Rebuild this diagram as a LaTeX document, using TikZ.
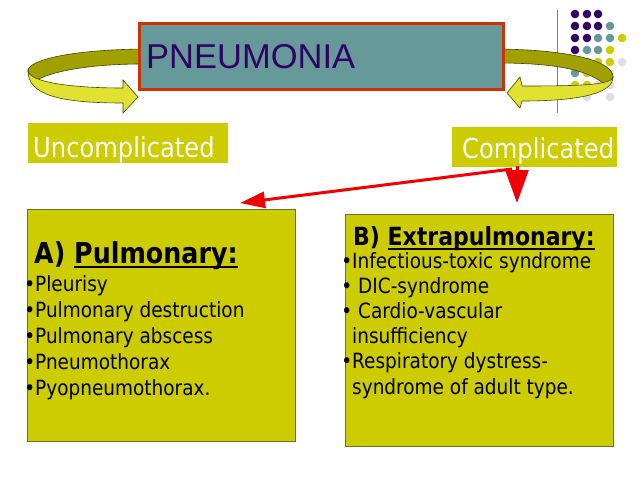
\documentclass[tikz,border=0pt]{standalone}
\usepackage{fontspec}
\setmainfont{DejaVu Sans}[FakeStretch=0.88]
\newfontfamily\arialf{Liberation Sans}
\usetikzlibrary{arrows.meta}
\definecolor{olivey}{RGB}{204,204,0}
\definecolor{tealbox}{RGB}{102,153,153}
\definecolor{redb}{RGB}{204,51,0}
\definecolor{purp}{RGB}{51,0,102}
\definecolor{riblight}{RGB}{225,225,50}
\definecolor{ribdark}{RGB}{160,160,0}
\definecolor{ribedge}{RGB}{70,70,0}
\definecolor{dotP}{RGB}{51,0,102}
\definecolor{dotT}{RGB}{102,153,153}
\definecolor{dotY}{RGB}{204,204,0}
\definecolor{dotL}{RGB}{221,221,238}
\definecolor{boxedge}{RGB}{110,110,50}
\definecolor{arrred}{RGB}{240,0,0}
\newcommand\myul[1]{\setbox0\hbox{#1}\rlap{\rule[-4.5pt]{\wd0}{2pt}}\box0}
\newcommand\bul{\llap{•}}
\tikzset{
  mainbox/.style={draw=redb, line width=3pt, fill=tealbox, minimum width=364pt, minimum height=66pt, anchor=north west, inner sep=0pt},
  lblbox/.style={fill=olivey, anchor=north west, inner sep=0pt},
  lbltext/.style={anchor=base west, text=white, inner sep=0pt, font=\fontsize{27.5}{30}\selectfont},
  listbox/.style={fill=olivey, draw=boxedge, line width=0.8pt, minimum width=268pt, minimum height=232pt, anchor=north west, inner sep=0pt},
  itemtext/.style={anchor=base west, inner sep=0pt, font=\fontsize{21}{24}\selectfont},
  ribbonD/.style={fill=ribdark, draw=ribedge, line width=0.6pt},
  ribbonL/.style={fill=riblight, draw=ribedge, line width=0.6pt},
  dotp/.style={fill=dotP}, dott/.style={fill=dotT}, doty/.style={fill=dotY}, dotl/.style={fill=dotL},
  redline/.style={draw=arrred, line width=3pt, -{Triangle[length=25pt,width=16pt]}},
}
\begin{document}
\begin{tikzpicture}[x=1pt,y=-1pt]
\useasboundingbox (0,0) rectangle (640,480);
\fill[white] (0,0) rectangle (640,480);
% decoration line and dots
\draw[gray, line width=1pt] (557,10) -- (557,113);
\foreach \c/\r/\s in {575/14/dotp,587/14/dotp,598/14/dotp,
  575/26/dotp,587/26/dotp,598/26/dotp,610/26/dott,
  575/38/dotp,587/38/dotp,598/38/dott,610/38/dott,622/38/doty,
  575/50/dotp,587/50/dott,598/50/dott,610/50/doty,
  575/62/dott,587/62/dott,598/62/doty,610/62/doty,622/62/dotl,
  575/73/dott,587/73/doty,598/73/doty,610/73/dotl,
  575/85/doty,587/85/doty,598/85/dotl,610/85/dotl,
  587/97/dotl,610/97/dotl}
  \fill[\s] (\c,\r) circle (4.3pt);
% left ribbon arrow
\filldraw[ribbonD] (142,49) .. controls (70,50) and (28,60) .. (28,71) .. controls (28,75) and (31,78) .. (37,80) .. controls (55,70) and (95,64) .. (142,64) -- cycle;
\filldraw[ribbonL] (28,71) .. controls (30,82) and (70,88) .. (123,88) -- (123,80) -- (138,97) -- (123,113) -- (123,103) .. controls (60,103) and (28,95) .. (28,71) -- cycle;
% right ribbon arrow
\filldraw[ribbonD] (498,49) .. controls (575,50) and (613,62) .. (613,77) .. controls (613,80) and (609,82) .. (604,84) .. controls (588,70) and (555,63) .. (498,63) -- cycle;
\filldraw[ribbonL] (613,77) .. controls (612,85) and (580,86) .. (522,86) -- (520,77) -- (507,93) -- (520,108) -- (522,101) .. controls (585,101) and (613,92) .. (613,77) -- cycle;
% title box
\node[mainbox] (pbox) at (138,22) {};
\node[anchor=base west, inner sep=0pt, text=purp, font=\arialf\fontsize{34.5}{40}\selectfont] (ptext) at (146,68) {PNEUMONIA};
% labels
\node[lblbox, minimum width=200pt, minimum height=40pt] (ubox) at (28,123) {};
\node[lbltext] (utext) at (33,157) {Uncomplicated};
\node[lblbox, minimum width=165pt, minimum height=40pt] (cbox) at (452,127) {};
\node[lbltext] (ctext) at (462,158) {Complicated};
% list boxes
\node[listbox] (boxA) at (27,209) {};
\node[listbox] (boxB) at (345,214) {};
\node[itemtext, font=\bfseries\fontsize{28.8}{30}\selectfont] (a0) at (34,263) {A) \myul{Pulmonary:}};
\node[itemtext] (a1) at (35,291) {\bul Pleurisy};
\node[itemtext] (a2) at (35,317) {\bul Pulmonary destruction};
\node[itemtext] (a3) at (35,343) {\bul Pulmonary abscess};
\node[itemtext] (a4) at (35,369) {\bul Pneumothorax};
\node[itemtext] (a5) at (35,395) {\bul Pyopneumothorax.};
\node[itemtext, font=\bfseries\fontsize{25}{28}\selectfont] (b0) at (353,245) {B) \myul{Extrapulmonary:}};
\node[itemtext] (b1) at (352,268) {\bul Infectious-toxic syndrome};
\node[itemtext] (b2) at (352,293) {\bul\hspace{6pt}DIC-syndrome};
\node[itemtext] (b3) at (352,318) {\bul\hspace{6pt}Cardio-vascular};
\node[itemtext] (b4) at (352,343) {insufficiency};
\node[itemtext] (b5) at (352,368) {\bul Respiratory dystress-};
\node[itemtext] (b6) at (352,394) {syndrome of adult type.};
% red arrows
\coordinate (rstart) at (512,169);
\coordinate (rend) at (240,203);
\coordinate (dstart) at (517,166);
\coordinate (dend) at (517,203);
\draw[redline] (rstart) -- (rend);
\draw[draw=arrred, line width=3pt, -{Triangle[length=33pt,width=23pt]}] (dstart) -- (dend);
\end{tikzpicture}
\end{document}
